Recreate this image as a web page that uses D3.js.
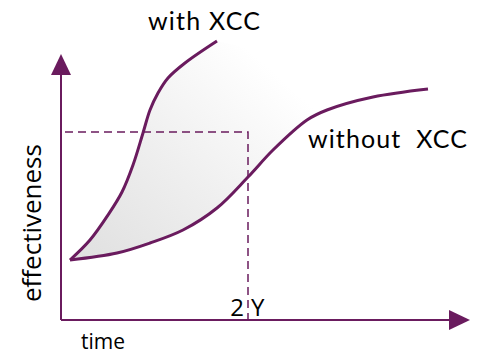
<!DOCTYPE html>
<html>
<head>
<meta charset="utf-8">
<script src="https://cdn.jsdelivr.net/npm/d3@7"></script>
<style>
  body { margin: 0; background: #fff; }
  svg { display: block; }
</style>
</head>
<body>
<svg width="480" height="354"></svg>
<script>
// curve with XCC (time, effectiveness)
const withTime = [0.225, 0.725, 1.175, 1.525, 1.8, 2.05, 2.225, 2.425, 2.675, 3.1, 3.9];
const withValue = [2.143, 2.857, 3.75, 4.571, 5.536, 6.68, 7.5, 8.107, 8.643, 9.179, 9.964];
// curve without XCC
const withoutTime = [0.225, 1.4, 2.225, 3.05, 3.9, 4.675, 5.3, 6.15, 6.65, 7.8, 9.175];
const withoutValue = [2.143, 2.393, 2.75, 3.214, 4.0, 5.107, 6.071, 7.143, 7.5, 7.964, 8.25];
// marker at 2 years
const markTime = 4.675;
const markValue = 6.71;
const markLabels = ["2", "Y"];
const xMax = 9.7, yMax = 8.75;

const purple = "#6a1b5e";
const svg = d3.select("svg");
const x = d3.scaleLinear([0, 10], [61, 461]);
const y = d3.scaleLinear([0, 10], [320, 40]);

const defs = svg.append("defs");
const grad = defs.append("linearGradient")
  .attr("id", "fillGrad")
  .attr("gradientUnits", "userSpaceOnUse")
  .attr("x1", 80).attr("y1", 260).attr("x2", 260).attr("y2", 60);
grad.append("stop").attr("offset", "0").attr("stop-color", "#e0e0e0");
grad.append("stop").attr("offset", "0.5").attr("stop-color", "#efefef");
grad.append("stop").attr("offset", "1").attr("stop-color", "#ffffff");

defs.append("marker")
  .attr("id", "arrow")
  .attr("markerUnits", "userSpaceOnUse")
  .attr("viewBox", "0 0 21 20")
  .attr("markerWidth", 21).attr("markerHeight", 20)
  .attr("refX", 0).attr("refY", 10)
  .attr("orient", "auto")
  .append("path")
  .attr("d", "M0,0L21,10L0,20Z")
  .attr("fill", purple);

const withData = withTime.map((t, i) => ({x: t, y: withValue[i]}));
const withoutData = withoutTime.map((t, i) => ({x: t, y: withoutValue[i]}));

const line = d3.line(d => x(d.x), d => y(d.y)).curve(d3.curveCatmullRom.alpha(0.5));

// shaded gap between the two curves
svg.append("path")
  .attr("d", line(withData) + "L" + line(withoutData.slice().reverse()).slice(1) + "Z")
  .attr("fill", "url(#fillGrad)");

// dashed 2Y guide
svg.append("path")
  .attr("d", `M${x(0) + 4},${y(markValue)}H${x(markTime)}V${y(0)}`)
  .attr("fill", "none")
  .attr("stroke", purple)
  .attr("stroke-width", 1.5)
  .attr("stroke-dasharray", "8,5");

// axes
svg.append("line")
  .attr("x1", x(0)).attr("y1", y(0)).attr("x2", x(xMax)).attr("y2", y(0))
  .attr("stroke", purple).attr("stroke-width", 2)
  .attr("marker-end", "url(#arrow)");
svg.append("line")
  .attr("x1", x(0)).attr("y1", y(0)).attr("x2", x(0)).attr("y2", y(yMax))
  .attr("stroke", purple).attr("stroke-width", 2)
  .attr("marker-end", "url(#arrow)");

// curves
[withData, withoutData].forEach(d => {
  svg.append("path")
    .datum(d)
    .attr("d", line)
    .attr("fill", "none")
    .attr("stroke", purple)
    .attr("stroke-width", 3)
    .attr("stroke-linejoin", "round");
});

// labels
svg.append("text")
  .attr("x", x(markTime) - 4).attr("y", 316)
  .attr("text-anchor", "end")
  .attr("font-family", "Open Sans").attr("font-size", 24)
  .text(markLabels[0]);
svg.append("text")
  .attr("x", x(markTime) + 3).attr("y", 316)
  .attr("font-family", "Open Sans").attr("font-size", 24)
  .text(markLabels[1]);

svg.append("text")
  .attr("x", 81).attr("y", 349)
  .attr("font-family", "Open Sans").attr("font-size", 21)
  .text("time");

svg.append("text")
  .attr("transform", "translate(41,302) rotate(-90)")
  .attr("font-family", "Open Sans").attr("font-size", 26)
  .text("effectiveness");

svg.append("text")
  .attr("x", 148).attr("y", 30)
  .attr("font-family", "Lato").attr("font-size", 25)
  .attr("textLength", 112).attr("lengthAdjust", "spacing")
  .text("with XCC");

svg.append("text")
  .attr("x", 308).attr("y", 148)
  .attr("font-family", "Lato").attr("font-size", 25)
  .attr("textLength", 159).attr("lengthAdjust", "spacing")
  .style("white-space", "pre")
  .text("without  XCC");
</script>
</body>
</html>
